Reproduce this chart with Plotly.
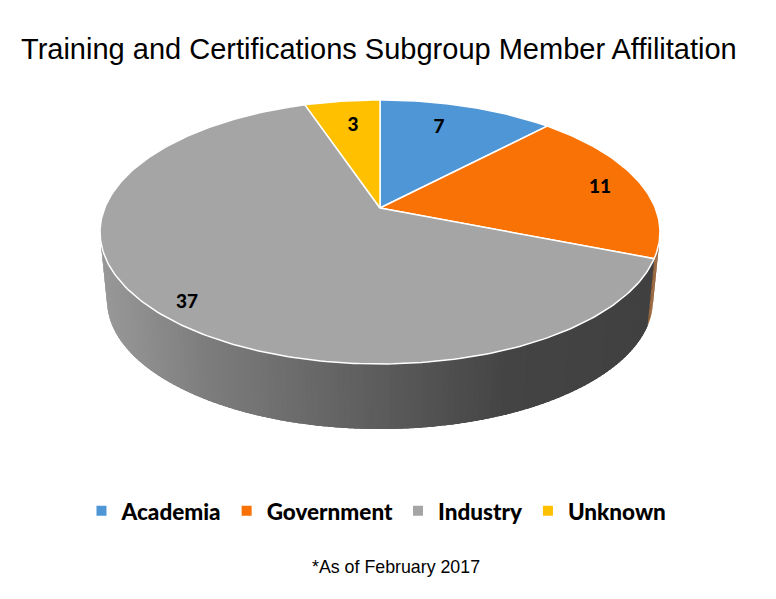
import math
import plotly.graph_objects as go

# ---- data ----
categories = ["Academia", "Government", "Industry", "Unknown"]
values = [7, 11, 37, 3]
colors = ["#4f96d6", "#f87206", "#a5a5a5", "#ffc000"]
title_text = "Training and Certifications Subgroup Member Affilitation"
note_text = "*As of February 2017"

# ---- pie geometry (perspective projection of a disc onto the page) ----
CX, CY = 380, 208
A, B, P = 275.3, 127.6, 0.1818
BOTTOM_SCALE, BOTTOM_CY = 0.975, 277
LABEL_XY = [(439, 128), (600, 188), (187, 303), (353, 126)]


def top(theta):
    d = 1 + P * math.cos(theta)
    return CX + A * math.sin(theta) / d, CY - B * math.cos(theta) / d


def bottom(theta):
    d = 1 + P * math.cos(theta)
    return (CX + BOTTOM_SCALE * A * math.sin(theta) / d,
            BOTTOM_CY - BOTTOM_SCALE * (B * math.cos(theta) / d))


def side_grey(x):
    stops = [(100, 0x98), (200, 0x7c), (380, 0x5a), (500, 0x44), (660, 0x40)]
    for (x0, c0), (x1, c1) in zip(stops, stops[1:]):
        if x <= x1:
            v = round(c0 + (c1 - c0) * (max(x, x0) - x0) / (x1 - x0))
            return f"rgb({v},{v},{v})"
    return "rgb(64,64,64)"


total = sum(values)
edges = [0.0]
for v in values:
    edges.append(edges[-1] + v / total * 2 * math.pi)

fig = go.Figure()

# side wall: visible part of the rim; each strip overlaps the one drawn before it
t_start = math.acos(-P)
t_end = 2 * math.pi - t_start
N = 140
step = (t_end - t_start) / N
for i in range(N):
    t0 = t_start + step * i
    t1 = t0 + step
    mid = (t0 + t1) / 2
    lo = t0 if mid < edges[2] or i == 0 else max(t0 - step * 1.5, edges[2])
    ts = [lo + (t1 - lo) * k / 3 for k in range(4)]
    up = [top(t) for t in ts]
    dn = [bottom(t) for t in reversed(ts)]
    loop = up + dn + up[:1]
    col = "#7a3c08" if mid < edges[2] else side_grey(top(mid)[0])
    fig.add_trace(go.Scatter(
        x=[p[0] for p in loop], y=[p[1] for p in loop],
        mode="lines", fill="toself", fillcolor=col, line=dict(width=0),
        hoverinfo="skip", showlegend=False))

# top face
for name, col, t0, t1 in zip(categories, colors, edges[:-1], edges[1:]):
    n = max(8, int((t1 - t0) * 60))
    pts = [top(t0 + (t1 - t0) * k / n) for k in range(n + 1)]
    xs = [CX] + [p[0] for p in pts] + [CX]
    ys = [CY] + [p[1] for p in pts] + [CY]
    fig.add_trace(go.Scatter(
        x=xs, y=ys, mode="lines", fill="toself", fillcolor=col,
        line=dict(color="white", width=1.5), hoverinfo="skip", showlegend=False))

# value labels
fig.add_trace(go.Scatter(
    x=[p[0] for p in LABEL_XY], y=[p[1] for p in LABEL_XY],
    mode="text", text=[str(v) for v in values],
    textposition="middle center",
    textfont=dict(family="Lato", size=19, color="black", weight=900),
    hoverinfo="skip", showlegend=False))

# legend entries
for name, col in zip(categories, colors):
    fig.add_trace(go.Scatter(
        x=[None], y=[None], mode="markers", name=name,
        marker=dict(symbol="square", size=10, color=col)))

fig.update_layout(
    width=776, height=599, autosize=False,
    margin=dict(l=0, r=0, t=0, b=0),
    paper_bgcolor="white", plot_bgcolor="white",
    xaxis=dict(range=[0, 776], visible=False, fixedrange=True),
    yaxis=dict(range=[599, 0], visible=False, fixedrange=True),
    legend=dict(
        orientation="h", x=0.105, xanchor="left", y=0.1465, yanchor="middle",
        font=dict(family="Lato", size=22.5, color="black", weight=900),
        itemclick=False, itemdoubleclick=False, bgcolor="rgba(0,0,0,0)"),
    annotations=[
        dict(text=title_text, x=379, y=49, xref="x", yref="y", showarrow=False,
             font=dict(family="Liberation Sans", size=29, color="black")),
        dict(text=note_text, x=396, y=567, xref="x", yref="y", showarrow=False,
             font=dict(family="Liberation Sans", size=17.8, color="black")),
    ],
)

fig.write_html("out.html", config=dict(displayModeBar=False),
               post_script="document.body.style.margin='0';")
